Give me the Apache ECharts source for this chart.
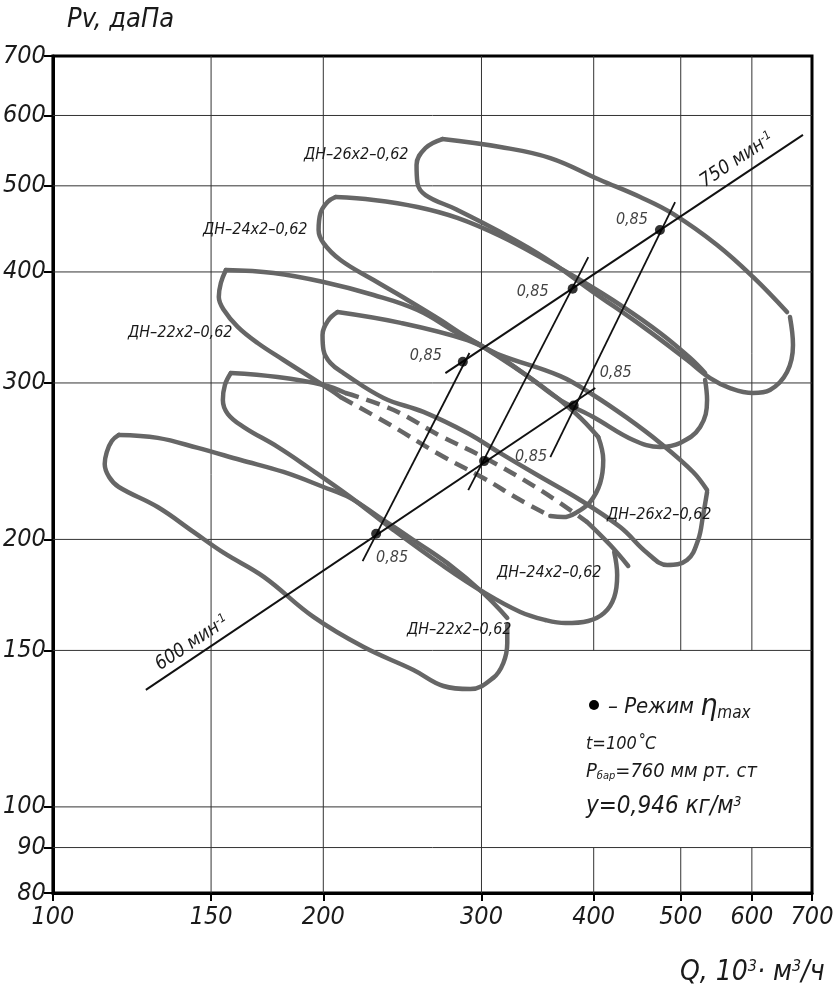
<!DOCTYPE html>
<html><head><meta charset="utf-8">
<script src="https://cdn.jsdelivr.net/npm/echarts@6.0.0/dist/echarts.min.js"></script>
<style>html,body{margin:0;padding:0;background:#fff}#c{width:840px;height:1000px}</style>
</head><body><div id="c"></div>
<script>
// ---- axis ticks ----
const xTicks = [100,150,200,300,400,500,600,700];
const yTicks = [80,90,100,150,200,300,400,500,600,700];
const xGridFull = [150,200,300];
const xGridSplit = [400,500,600];
const yGridFull = [90,150,200,300,400,500,600];
const yGridShort = [100];

// ---- fan loops: Q (10^3 m3/h), Pv (daPa) ----
const L22_600_upper = [[118.4,262.2],[130.8,260.2],[145.0,253.5],[161.8,245.7],[180.6,238.2],[200.1,229.1],[214.4,222.6],[231.6,211.4],[252.0,199.7],[274.9,188.1],[301.4,174.0],[320.5,163.2]];
const L22_600_outer = [[118.4,262.2],[116.3,258.1],[114.8,250.8],[114.2,243.2],[115.5,235.1],[118.4,229.1],[130.8,217.5],[143.5,203.8],[155.0,193.1],[171.7,181.5],[195.0,163.6],[221.8,151.3],[252.0,142.6],[272.1,136.8],[291.5,135.7],[309.2,139.7],[317.3,145.2],[320.5,152.9],[320.5,160.2]];

const L24_600_upperA = [[157.8,307.8],[177.9,304.6],[200.1,298.4],[211.7,292.3]];
const L24_600_upperDash = [[211.7,292.3],[239.5,279.7],[270.0,261.5],[301.4,247.6],[348.8,227.3],[393.4,209.2]];
const L24_600_upperB = [[393.4,209.2],[417.3,197.1],[437.0,186.7]];
const L24_600_outer = [[157.8,307.8],[155.4,298.4],[154.6,287.0],[156.6,276.8],[163.1,267.6],[177.9,254.2],[192.1,241.3],[214.4,223.2],[239.5,204.9],[272.1,186.7],[301.4,174.5],[331.4,165.7],[353.3,162.3],[371.9,161.0],[394.4,161.9],[410.9,165.3],[421.6,172.2],[424.8,182.4],[421.6,193.6]];

const L26_600_upper = [[207.4,360.5],[243.8,350.5],[289.3,335.3],[314.8,322.5],[367.2,305.4],[399.5,290.8],[435.8,274.0],[474.3,256.8],[516.1,238.2],[534.9,227.3]];
const L26_600_outer = [[207.4,360.5],[202.7,353.2],[199.6,339.7],[200.1,326.7],[203.7,315.9],[210.6,307.8],[233.4,288.6],[258.5,278.3],[289.3,263.5],[314.8,250.1],[346.1,236.3],[386.4,221.5],[428.1,206.5],[458.8,193.1],[482.9,187.2],[508.2,189.6],[522.8,199.7],[529.5,213.0],[534.9,226.1]];

const L22_750_upper = [[155.8,402.0],[176.1,398.9],[200.1,389.7],[227.5,376.8],[254.6,362.4],[282.0,341.4],[301.4,329.3],[348.8,298.4],[381.5,277.5],[404.7,260.8]];
const L22_750_outerA = [[155.8,402.0],[153.8,388.7],[153.0,374.8],[155.0,362.4],[160.6,346.9],[169.0,332.7],[180.6,318.4],[203.7,294.6],[209.0,289.3]];
const L22_750_outerDash = [[209.0,289.3],[237.6,269.0],[270.0,248.9],[301.4,234.5],[331.4,221.5],[357.9,212.5]];
const L22_750_outerB = [[357.9,212.5],[370.0,211.9],[383.5,214.7],[396.4,220.4],[406.7,231.5],[409.9,245.7],[404.7,260.8]];

const L24_750_upper = [[206.4,485.7],[227.5,482.0],[254.6,473.3],[282.0,460.1],[314.8,439.0],[353.3,412.6],[386.4,391.7],[428.1,367.2],[474.3,341.4],[512.2,320.0],[532.2,307.8]];
const L24_750_outer = [[206.4,485.7],[202.2,479.5],[198.6,466.1],[197.6,445.9],[200.1,431.1],[209.0,412.6],[227.5,391.7],[248.2,372.0],[270.0,353.2],[284.2,341.4],[314.8,320.8],[340.0,303.8],[367.2,287.0],[399.5,274.7],[442.6,258.8],[474.3,254.2],[499.2,256.8],[525.5,267.6],[534.9,287.0],[532.2,302.3]];

const L26_750_upper = [[271.4,564.5],[314.8,553.0],[357.9,537.3],[406.7,507.6],[450.6,485.7],[490.3,464.9],[548.8,428.9],[601.7,394.8],[656.6,360.5]];
const L26_750_outer = [[271.4,564.5],[259.9,551.5],[254.0,527.7],[254.6,503.7],[259.9,488.2],[280.6,470.9],[314.8,443.6],[353.3,414.7],[399.5,379.7],[454.1,346.9],[508.2,318.4],[539.1,303.8],[567.3,296.1],[601.7,292.3],[628.5,294.6],[656.6,308.6],[666.7,331.0],[661.6,355.9]];

// ---- speed lines, eta-max lines and points ----
const speed750 = [[273.5,307.8],[684,570.5]];
const speed600 = [[126.9,135.4],[401.6,296.1]];
const eta22 = [[221.2,189.1],[290.9,324.2]];
const eta24 = [[290,227.3],[394.5,415.7]];
const eta26 = [[357.9,247.6],[492.8,479.4]];
const etaPoints = [[229,203],[286,317],[302,245],[379,383],[380,283],[474,446]];
const etaLabels = ['0,85','0,85','0,85','0,85','0,85','0,85'];

// ------------------------------------------------
const L = v => Math.log10(v);
const tr = arr => arr.map(p => [L(p[0]), L(p[1])]);
const FONT = "'Liberation Sans Narrow','DejaVu Sans Condensed','Liberation Sans',sans-serif";
const TXT = '#1a1a1a';

const series = [];
function seg(a, b) {
  series.push({type:'line', data: tr([a,b]), symbol:'none', silent:true, z:1, animation:false,
    lineStyle:{color:'#333', width:1}});
}
xGridFull.forEach(x => seg([x, yTicks[0]], [x, yTicks[yTicks.length-1]]));
xGridSplit.forEach(x => { seg([x, 80], [x, 90]); seg([x, 150], [x, 700]); });
yGridFull.forEach(y => seg([xTicks[0], y], [xTicks[xTicks.length-1], y]));
yGridShort.forEach(y => seg([100, y], [300, y]));

function loop(d, dashed) {
  series.push({type:'line', data: tr(d), smooth:0.4, symbol:'none', silent:true, z:3, animation:false,
    lineStyle:{color:'#666', width:4.5, type: dashed ? [14,8] : 'solid', cap: dashed ? 'butt' : 'round', join:'round'}});
}
[L22_600_upper, L22_600_outer, L24_600_upperA, L24_600_upperB, L24_600_outer, L26_600_upper, L26_600_outer,
 L22_750_upper, L22_750_outerA, L22_750_outerB, L24_750_upper, L24_750_outer, L26_750_upper, L26_750_outer]
 .forEach(d => loop(d, false));
[L24_600_upperDash, L22_750_outerDash].forEach(d => loop(d, true));

function thin(d, w) {
  series.push({type:'line', data: tr(d), symbol:'none', silent:true, z:4, animation:false,
    lineStyle:{color:'#111', width:w}});
}
thin(speed750, 2); thin(speed600, 2);
thin(eta22, 1.8); thin(eta24, 1.8); thin(eta26, 1.8);

const labOff = [[16,24],[-37,-6],[47,-4],[-40,3],[42,-33],[-28,-10]];
series.push({type:'scatter', z:5, animation:false, symbolSize:10, itemStyle:{color:'#000'},
  data: tr(etaPoints).map((p,i) => ({value:p, label:{show:true, formatter: etaLabels[i],
    position:[5 + labOff[i][0], 5 + labOff[i][1]], align:'center', verticalAlign:'middle',
    color:'#111', textBorderWidth:0, fontSize:16, fontStyle:'italic', fontFamily:FONT}}))});

function txt(x, y, text, size, extra) {
  return Object.assign({type:'text', x:x, y:y, z:10, silent:true,
    style:Object.assign({text:text, fontSize:size, fontStyle:'italic', fontFamily:FONT, fill:TXT, align:'left', verticalAlign:'middle'}, extra||{})});
}
const rs = (size, va) => ({fontSize:size, fontStyle:'italic', fontFamily:FONT, fill:TXT, verticalAlign:va||'middle'});

const graphic = [
  txt(67, 20, 'Pv, даПа', 27),
  txt(680, 973, '{a|Q, 10}{b|3}{a|· м}{b|3}{a|/ч}', 28, {rich:{a:rs(28,'bottom'), b:rs(16,'top')}}),
  {type:'circle', shape:{cx:594, cy:705, r:5}, style:{fill:'#000'}, z:10, silent:true},
  txt(608, 707, '{a|– Режим }{e|η}{s|max}', 22, {rich:{a:rs(22,'middle'), e:rs(30,'middle'), s:rs(17,'bottom')}}),
  txt(586, 744, 't=100˚C', 18),
  txt(586, 772, '{a|P}{s|бар}{a|=760 мм рт. ст}', 20, {rich:{a:rs(20,'top'), s:rs(11,'bottom')}}),
  txt(586, 807, '{a|у=0,946 кг/м}{b|3}', 24, {rich:{a:rs(24,'bottom'), b:rs(14,'top')}}),
  txt(737, 160, '{a|750 мин}{b|-1}', 19, {align:'center', rich:{a:rs(19,'bottom'), b:rs(12,'top')}}),
  txt(192, 643, '{a|600 мин}{b|-1}', 19, {align:'center', rich:{a:rs(19,'bottom'), b:rs(12,'top')}}),
  txt(304, 155, 'ДН–26х2–0,62', 16),
  txt(203, 230, 'ДН–24х2–0,62', 16),
  txt(128, 333, 'ДН–22х2–0,62', 16),
  txt(607, 515, 'ДН–26х2–0,62', 16),
  txt(497, 573, 'ДН–24х2–0,62', 16),
  txt(407, 630, 'ДН–22х2–0,62', 16)
];
graphic[7].rotation = 33.7*Math.PI/180;
graphic[8].rotation = 33.9*Math.PI/180;

const axisLabelStyle = {fontSize:25, fontStyle:'italic', fontFamily:FONT, color:TXT, showMinLabel:true, showMaxLabel:true,
  formatter: v => String(Math.round(Math.pow(10, v)))};

const chart = echarts.init(document.getElementById('c'), null, {renderer:'canvas'});
chart.setOption({
  animation:false,
  backgroundColor:'#fff',
  grid:{left:52, right:28, top:56, bottom:107, show:true, borderColor:'#000', borderWidth:3, backgroundColor:'transparent'},
  xAxis:{type:'value', min:L(100), max:L(700),
    axisLine:{show:true, onZero:false, lineStyle:{color:'#000', width:3}},
    axisTick:{show:true, customValues:xTicks.map(L), length:8, lineStyle:{color:'#000', width:2}},
    axisLabel:Object.assign({customValues:xTicks.map(L), margin:12}, axisLabelStyle),
    splitLine:{show:false}},
  yAxis:{type:'value', min:L(80), max:L(700),
    axisLine:{show:true, onZero:false, lineStyle:{color:'#000', width:3}},
    axisTick:{show:true, customValues:yTicks.map(L), length:9, lineStyle:{color:'#000', width:2}},
    axisLabel:Object.assign({customValues:yTicks.map(L), margin:7}, axisLabelStyle),
    splitLine:{show:false}},
  graphic: graphic,
  series: series
});
</script></body></html>
